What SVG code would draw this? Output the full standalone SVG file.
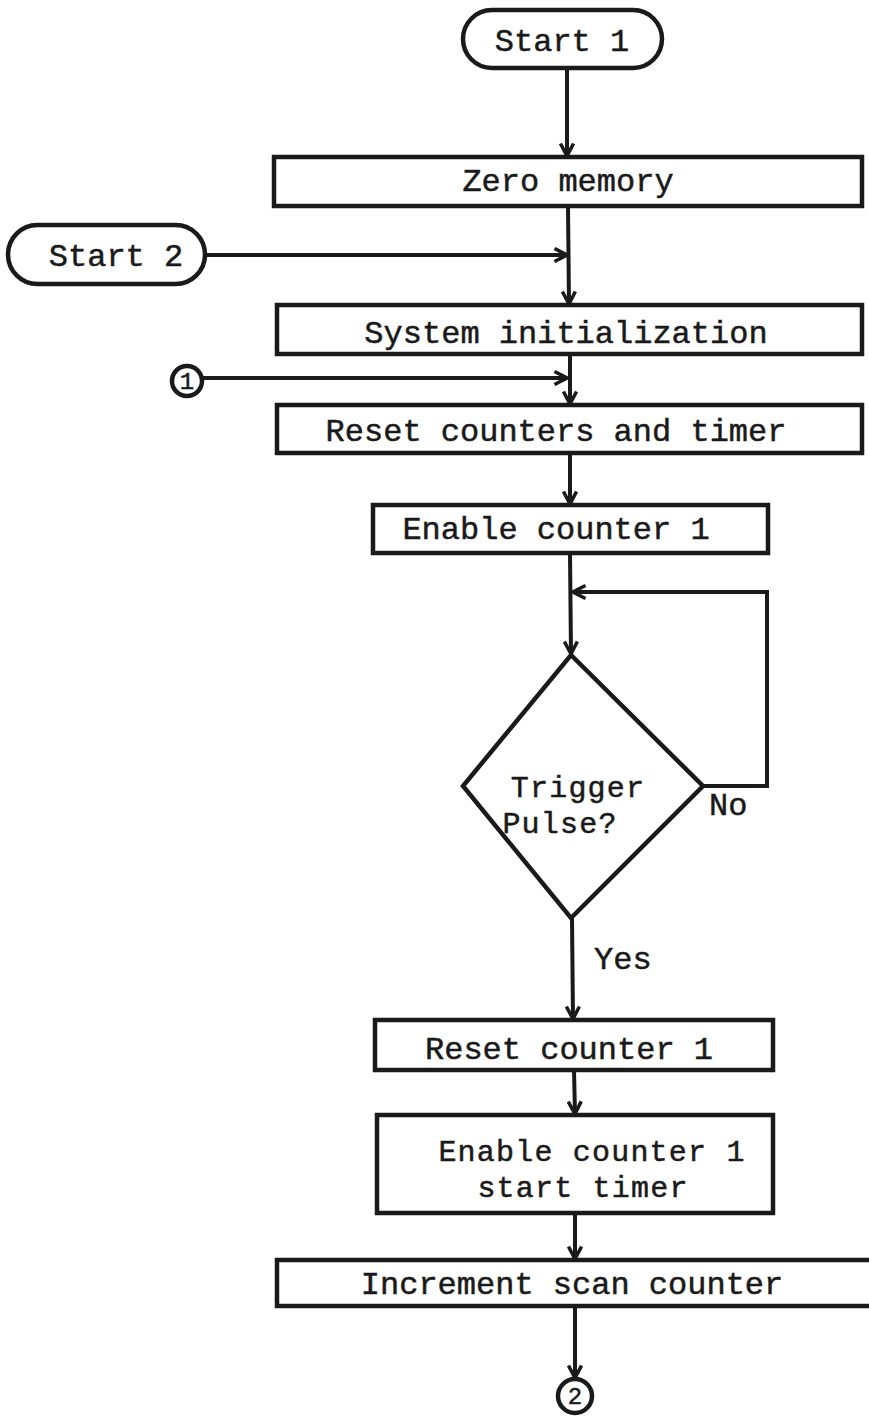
<svg xmlns="http://www.w3.org/2000/svg" width="869" height="1419" viewBox="0 0 869 1419">
  <style>
    .shape { fill: #ffffff; stroke: #1a1a1a; stroke-width: 4.5; }
    .line { fill: none; stroke: #1a1a1a; stroke-width: 4; }
    .label { font-family: "Liberation Mono", "Courier New", monospace; font-size: 32px; fill: #1a1a1a; stroke: #1a1a1a; stroke-width: 0.5; text-anchor: middle; }
    .label2 { font-family: "Liberation Mono", "Courier New", monospace; font-size: 30px; letter-spacing: 1.2px; fill: #1a1a1a; stroke: #1a1a1a; stroke-width: 0.5; text-anchor: middle; }
    .small { font-family: "Liberation Mono", "Courier New", monospace; font-size: 24px; fill: #1a1a1a; stroke: #1a1a1a; stroke-width: 0.5; text-anchor: middle; }
  </style>
  <defs>
    <marker id="arrow" viewBox="0 0 16 16" refX="14" refY="8" markerWidth="16" markerHeight="16" markerUnits="userSpaceOnUse" orient="auto">
      <path d="M1.5,1.5 L14,8 L1.5,14.5" fill="none" stroke="#1a1a1a" stroke-width="3.5" stroke-linejoin="miter"/>
    </marker>
  </defs>
  <rect width="869" height="1419" fill="#ffffff"/>

  <!-- connectors -->
  <g id="connectors">
    <line class="line" x1="567" y1="68" x2="567" y2="156" marker-end="url(#arrow)"/>
    <line class="line" x1="205" y1="255" x2="567" y2="255" marker-end="url(#arrow)"/>
    <line class="line" x1="568" y1="206" x2="569" y2="304" marker-end="url(#arrow)"/>
    <line class="line" x1="202" y1="378" x2="567" y2="378" marker-end="url(#arrow)"/>
    <line class="line" x1="570" y1="354" x2="570" y2="404" marker-end="url(#arrow)"/>
    <line class="line" x1="570" y1="453" x2="570" y2="504" marker-end="url(#arrow)"/>
    <line class="line" x1="570" y1="553" x2="571" y2="654" marker-end="url(#arrow)"/>
    <polyline class="line" points="703,786 767,786 767,592 573,592" marker-end="url(#arrow)"/>
    <line class="line" x1="572" y1="918" x2="573" y2="1019" marker-end="url(#arrow)"/>
    <line class="line" x1="574" y1="1070" x2="575" y2="1114" marker-end="url(#arrow)"/>
    <line class="line" x1="575" y1="1213" x2="575" y2="1259" marker-end="url(#arrow)"/>
    <line class="line" x1="575" y1="1306" x2="575" y2="1378" marker-end="url(#arrow)"/>
  </g>

  <g id="start1">
    <rect class="shape" x="463" y="10" width="199" height="58" rx="29"/>
    <text class="label" x="562" y="51">Start 1</text>
  </g>

  <g id="zero-memory">
    <rect class="shape" x="274" y="157" width="588" height="49"/>
    <text class="label" x="568" y="191">Zero memory</text>
  </g>

  <g id="start2">
    <rect class="shape" x="8" y="225" width="197" height="59" rx="29.5"/>
    <text class="label" x="116" y="266">Start 2</text>
  </g>

  <g id="system-init">
    <rect class="shape" x="277" y="305" width="585" height="49"/>
    <text class="label" x="566" y="343">System initialization</text>
  </g>

  <g id="connector1">
    <circle class="shape" cx="187" cy="381" r="15" stroke-width="3.5"/>
    <text class="small" x="187" y="389">1</text>
  </g>

  <g id="reset-counters">
    <rect class="shape" x="277" y="405" width="585" height="48"/>
    <text class="label" x="556" y="441">Reset counters and timer</text>
  </g>

  <g id="enable-counter">
    <rect class="shape" x="373" y="505" width="395" height="48"/>
    <text class="label" x="556" y="539">Enable counter 1</text>
  </g>

  <g id="trigger-decision">
    <polygon class="shape" points="571,655 703,786 571,918 463,786" stroke-width="4"/>
    <text class="label2" x="578" y="797">Trigger</text>
    <text class="label2" x="560" y="833">Pulse?</text>
    <text class="label" x="709" y="815" style="text-anchor: start">No</text>
    <text class="label" x="594" y="969" style="text-anchor: start">Yes</text>
  </g>

  <g id="reset-counter1">
    <rect class="shape" x="375" y="1020" width="398" height="50"/>
    <text class="label" x="569" y="1059">Reset counter 1</text>
  </g>

  <g id="enable-start-timer">
    <rect class="shape" x="377" y="1115" width="396" height="98"/>
    <text class="label2" x="592" y="1161">Enable counter 1</text>
    <text class="label2" x="583" y="1197">start timer</text>
  </g>

  <g id="increment-scan">
    <rect class="shape" x="277" y="1260" width="600" height="46"/>
    <text class="label" x="572" y="1294">Increment scan counter</text>
  </g>

  <g id="connector2">
    <circle class="shape" cx="575" cy="1396" r="17" stroke-width="3.5"/>
    <text class="small" x="575" y="1404">2</text>
  </g>
</svg>
